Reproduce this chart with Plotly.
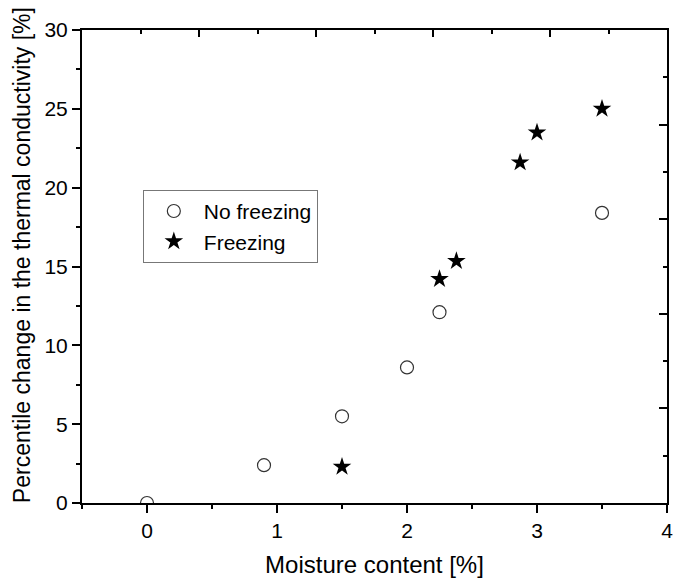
import plotly.graph_objects as go

# Data
nofreeze_x = [0, 0.9, 1.5, 2.0, 2.25, 3.5]
nofreeze_y = [0, 2.4, 5.5, 8.6, 12.1, 18.4]
freeze_x = [1.5, 2.25, 2.38, 2.87, 3.0, 3.5]
freeze_y = [2.3, 14.2, 15.35, 21.6, 23.5, 25.0]

series_names = ["No freezing", "Freezing"]
x_range = [-0.5, 4]
y_range = [0, 30]
x_title = "Moisture content [%]"
y_title = "Percentile change in the thermal conductivity [%]"

FONT = "Liberation Sans, Arial, sans-serif"

fig = go.Figure()
fig.add_trace(go.Scatter(
    x=nofreeze_x, y=nofreeze_y, mode="markers", name=series_names[0],
    marker=dict(symbol="circle-open", size=13, color="#333333", line=dict(width=1.2)),
))
fig.add_trace(go.Scatter(
    x=freeze_x, y=freeze_y, mode="markers", name=series_names[1],
    marker=dict(symbol="star", size=14, color="black"),
))
# empty trace to activate mirror axes (top/right)
fig.add_trace(go.Scatter(x=[None], y=[None], xaxis="x2", yaxis="y2",
                         showlegend=False, hoverinfo="skip"))

axis_common = dict(showgrid=False, zeroline=False, showline=True,
                   linecolor="black", linewidth=2, tickcolor="black",
                   tickwidth=2, automargin=False)

fig.update_layout(
    width=684, height=578,
    margin=dict(l=82, r=17, t=30, b=75),
    plot_bgcolor="white", paper_bgcolor="white",
    font=dict(family=FONT, color="black"),
    xaxis=dict(
        **axis_common, range=x_range, tick0=0, dtick=1, ticks="outside",
        ticklen=8, tickfont=dict(size=21),
        minor=dict(tick0=0, dtick=0.5, ticks="outside", ticklen=4,
                   tickwidth=2, tickcolor="black", showgrid=False),
        title=dict(text=x_title, font=dict(size=24), standoff=17),
    ),
    xaxis2=dict(
        **axis_common, range=x_range, overlaying="x", side="top", anchor="y",
        tick0=-0.5, dtick=0.9, ticks="inside", ticklen=7, showticklabels=False,
        minor=dict(tick0=-0.5, dtick=0.45, ticks="inside", ticklen=4,
                   tickwidth=2, tickcolor="black", showgrid=False),
    ),
    yaxis=dict(
        **axis_common, range=y_range, tick0=0, dtick=5, ticks="outside",
        ticklen=8, tickfont=dict(size=21),
        minor=dict(tick0=0, dtick=2.5, ticks="outside", ticklen=4,
                   tickwidth=2, tickcolor="black", showgrid=False),
    ),
    yaxis2=dict(
        **axis_common, range=y_range, overlaying="y", side="right", anchor="x",
        tick0=0, dtick=6, ticks="inside", ticklen=8, showticklabels=False,
        minor=dict(tick0=0, dtick=3, ticks="inside", ticklen=4,
                   tickwidth=2, tickcolor="black", showgrid=False),
    ),
    legend=dict(
        x=0.104, y=0.662, xanchor="left", yanchor="top",
        bordercolor="#777777", borderwidth=1, bgcolor="white",
        font=dict(size=21, family=FONT), itemwidth=50,
    ),
    showlegend=True,
    annotations=[dict(
        text=y_title, textangle=-90, xref="paper", yref="paper",
        x=-0.1026, y=0.524, xanchor="center", yanchor="middle",
        showarrow=False, font=dict(size=23, family=FONT, color="black"),
    )],
)

fig.write_html("out.html")
